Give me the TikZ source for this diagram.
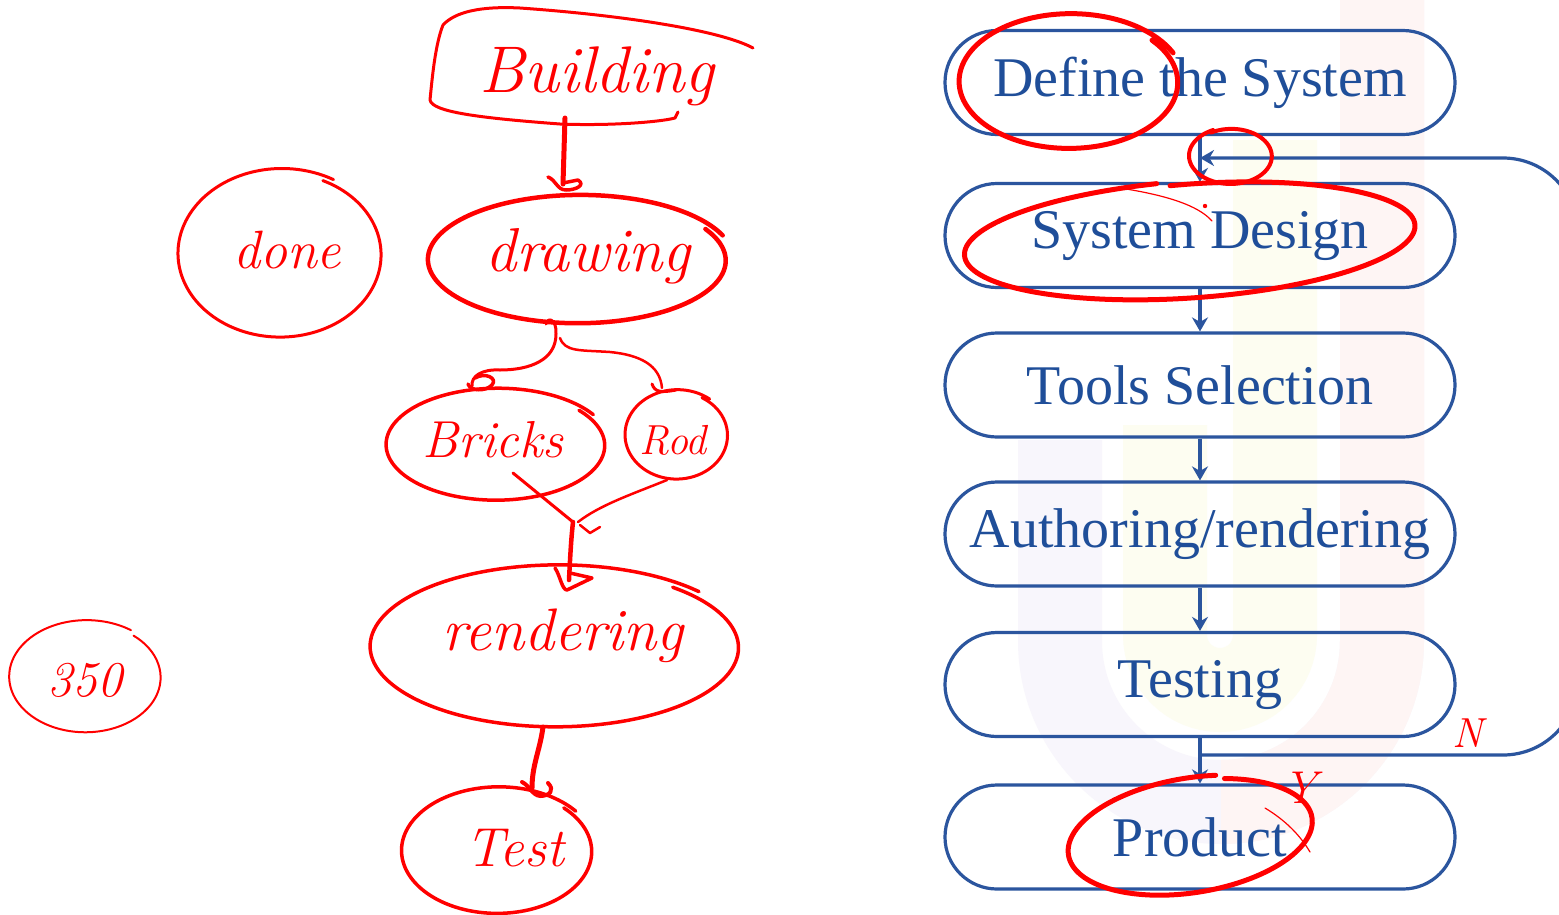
\documentclass[tikz,border=0pt]{standalone}
\usepackage{fontspec}
\newfontfamily\boxfont{Liberation Serif}
\usetikzlibrary{arrows.meta}
\definecolor{boxblue}{HTML}{2B559E}
\definecolor{txtblue}{HTML}{1F4E99}
\definecolor{wmlav}{HTML}{F8F6FC}
\definecolor{wmpink}{HTML}{FEF5F4}
\definecolor{wmyel}{HTML}{FDFDF1}
\newcommand{\handloop}[7]{%
  \draw[hand,#1] plot[domain=#6:#7, samples=80, smooth, variable=\t]
   ({#2 + #4*cos(\t)*(1+0.06*(\t-#6)/360)}, {#3 + #5*sin(\t)*(1+0.06*(\t-#6)/360)});}
\begin{document}
\begin{tikzpicture}[x=1pt,y=-1pt,
  flowbox/.style={draw=boxblue, line width=3.2pt, rounded corners=52pt, minimum width=510pt, minimum height=104pt, inner sep=0pt, text=txtblue, font=\boxfont\fontsize{56}{60}\selectfont},
  flowline/.style={draw=boxblue, line width=3.2pt},
  flowarrow/.style={flowline, -{Stealth[length=14pt,width=16pt]}},
  hand/.style={draw=red, line cap=round, line join=round, line width=3pt},
  handtext/.style={text=red, inner sep=0pt, font=\fontsize{#1}{#1}\selectfont\itshape},
]
\useasboundingbox (0,0) rectangle (1559,914);
\clip (0,0) rectangle (1559,914);
\fill[white] (0,0) rectangle (1559,914);

% watermark
\draw[line width=84pt, wmlav, rounded corners=161pt] (1060,440) -- (1060,802) -- (1382,802) -- (1382,-20);
\begin{scope}
\clip (1221,0) rectangle (1559,914);
\draw[line width=84pt, wmpink, rounded corners=161pt] (1060,440) -- (1060,802) -- (1382,802) -- (1382,-20);
\end{scope}
\draw[line width=84pt, wmyel, rounded corners=55pt] (1165,425) -- (1165,690) -- (1275,690) -- (1275,140);

% flowchart
\node[flowbox] (define)  at (1200,82.5) {\raisebox{-3pt}{Define the System}};
\node[flowbox] (sysdes)  at (1200,235.5) {\raisebox{-3pt}{System Design}};
\node[flowbox] (tools)   at (1200,385) {\raisebox{-3pt}{Tools Selection}};
\node[flowbox] (author)  at (1200,534) {\raisebox{-3pt}{Authoring/rendering}};
\node[flowbox] (testing) at (1200,684.5) {\raisebox{-3pt}{Testing}};
\node[flowbox] (product) at (1200,837) {\raisebox{-3pt}{Product}};
\coordinate (split) at (1200,755);
\coordinate (fbR1) at (1578,755);
\coordinate (fbR2) at (1578,158);
\coordinate (join) at (1200,158);
\draw[flowarrow] (define.south) -- (sysdes.north);
\draw[flowarrow] (sysdes.south) -- (tools.north);
\draw[flowarrow] (tools.south) -- (author.north);
\draw[flowarrow] (author.south) -- (testing.north);
\draw[flowline] (testing.south) -- (split);
\draw[flowarrow] (split) -- (product.north);
\draw[flowarrow, rounded corners=75pt] (split) -- (fbR1) -- (fbR2) -- (join);

% red annotations: right side
\handloop{line width=5pt}{1070}{82}{107}{65}{-40}{335}
\handloop{line width=4pt}{1231}{156}{40}{27}{-120}{245}
\handloop{line width=5pt, rotate around={4:(1193,240)}}{1193}{240}{219}{56}{-95}{262}
\draw[red, line width=1.2pt, line cap=round] (1120,188) .. controls (1165,195) and (1198,205) .. (1212,221);
\fill[red] (1205,206) circle (2.2pt);
\handloop{line width=5pt, rotate around={9:(1192,836)}}{1192}{836}{120}{55}{-70}{285}
\draw[red, line width=1.2pt, line cap=round] (1265,808) .. controls (1285,820) and (1300,835) .. (1310,852);
\node[handtext=42] (nN) at (1468,733) {N};
\node[handtext=46] (nY) at (1300,788) {Y};

% red annotations: left side
\node[handtext=66] (tBuild) at (597,76) {Building};
\draw[hand] (753,48) .. controls (720,30) and (620,15) .. (520,8) .. controls (480,6) and (455,12) .. (443,25) .. controls (435,45) and (432,80) .. (430,100) .. controls (432,112) and (480,118) .. (560,124) .. controls (610,126) and (660,122) .. (675,118) -- (678,112);
\coordinate (bA) at (565,118);
\coordinate (bB) at (563,184);
\draw[hand, line width=5pt] (bA) -- (bB);
\draw[hand, line width=3.5pt] (548,177) .. controls (556,180) and (557,190) .. (566,190) .. controls (576,190) and (586,185) .. (578,180) -- (563,183);

\node[handtext=62] (tDraw) at (588,256) {drawing};
\handloop{line width=4.5pt}{579}{260}{146}{62}{-30}{338}
\node[handtext=54] (tDone) at (287,250) {done};
\handloop{line width=3pt}{281}{254}{99}{81}{-65}{300}

\coordinate (dA) at (546,324);
\coordinate (dL) at (472,386);
\coordinate (dR) at (662,388);
\draw[hand] (dA) .. controls (548,316) and (557,320) .. (556,334) .. controls (556,360) and (530,370) .. (500,370) .. controls (482,369) and (471,376) .. (dL);
\draw[hand, line width=3.5pt] (475,378) .. controls (485,372) and (498,378) .. (492,385) .. controls (485,392) and (470,391) .. (468,384);
\draw[hand, line width=2.5pt] (560,338) .. controls (565,352) and (580,350) .. (610,352) .. controls (640,355) and (660,365) .. (dR);
\draw[hand, line width=3pt] (652,384) .. controls (655,392) and (660,393) .. (676,390);

\node[handtext=52] (tBricks) at (493,440) {Bricks};
\handloop{line width=3.5pt}{497}{445}{107}{54}{-40}{328}
\node[handtext=42] (tRod) at (673,440) {Rod};
\handloop{line width=3pt}{677}{435}{50}{43}{-60}{308}

\coordinate (mL) at (513,473);
\coordinate (mR) at (667,480);
\coordinate (mC) at (573,522);
\coordinate (mE) at (569,580);
\draw[hand] (mL) -- (mC);
\draw[hand, line width=2.5pt] (mR) .. controls (630,495) and (600,505) .. (578,522);
\draw[hand, line width=2.5pt] (580,525) -- (590,533) -- (600,527);
\draw[hand, line width=4.5pt] (mC) .. controls (571,540) and (570,560) .. (mE);
\draw[hand, line width=3.5pt] (555,568) .. controls (560,575) and (562,590) .. (567,590) -- (592,578) -- (570,573);

\node[handtext=60] (tRend) at (563,636) {rendering};
\handloop{line width=3.5pt}{557}{647}{180}{78}{-50}{318}

\coordinate (rA) at (543,727);
\coordinate (rB) at (532,788);
\draw[hand, line width=5pt] (rA) .. controls (540,750) and (532,765) .. (rB);
\draw[hand, line width=4pt] (522,782) .. controls (530,786) and (532,795) .. (540,796) .. controls (550,796) and (555,790) .. (548,783);

\node[handtext=55] (tTest) at (515,848) {Test};
\handloop{line width=3.5pt}{498}{851}{93}{61}{-45}{322}

\node[handtext=50] (t350) at (85,680) {350};
\handloop{line width=2pt}{86}{677}{74}{54}{-50}{305}
\end{tikzpicture}
\end{document}
